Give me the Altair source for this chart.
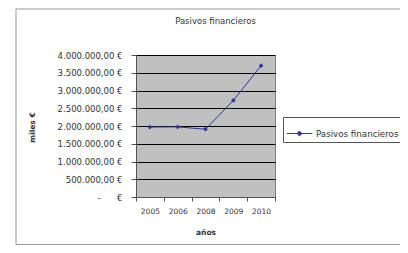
import altair as alt
import pandas as pd

years = ["2005", "2006", "2008", "2009", "2010"]
values = [1970000, 1975000, 1910000, 2720000, 3700000]
series_name = "Pasivos financieros"
y_ticks = [0, 500000, 1000000, 1500000, 2000000, 2500000, 3000000, 3500000, 4000000]

df = pd.DataFrame({"año": years, "valor": values, "serie": [series_name] * len(years)})

FONT = "DejaVu Sans"
TXT = "#333333"
LINE = "#333399"

line = alt.Chart(df).mark_line(
    color=LINE, strokeWidth=1,
    point=alt.OverlayMarkDef(shape="diamond", filled=True, size=22, color=LINE),
).encode(
    x=alt.X("año:O", sort=years, scale=alt.Scale(paddingInner=0, paddingOuter=0),
            axis=alt.Axis(title="años", labelAngle=0, tickBand="extent", tickSize=4,
                          labelPadding=6, labelFont=FONT, labelFontSize=7.5, labelColor=TXT,
                          titleFont=FONT, titleFontSize=7.5, titleFontWeight="bold", titleColor=TXT,
                          titleY=35, titleBaseline="middle",
                          domainColor="#555", tickColor="#555", grid=False)),
    y=alt.Y("valor:Q", scale=alt.Scale(domain=[0, 4000000]),
            axis=alt.Axis(title="miles €", values=y_ticks, tickSize=5, labelPadding=9,
                          labelExpr="datum.value == 0 ? '-\u00a0\u00a0\u00a0\u00a0\u00a0\u00a0€' : format(datum.value, ',.2f') + ' €'",
                          labelFont=FONT, labelFontSize=8.5, labelColor=TXT,
                          titleFont=FONT, titleFontSize=7.5, titleFontWeight="bold", titleColor=TXT,
                          titleX=-104, titleY=72, titleAlign="center", titleBaseline="middle",
                          titleAngle=270,
                          domainColor="#555", tickColor="#555",
                          grid=True, gridColor="#000000", gridOpacity=1, gridWidth=1)),
    color=alt.Color("serie:N", scale=alt.Scale(domain=[series_name], range=[LINE]),
                    legend=alt.Legend(title=None, orient="none", legendX=147, legendY=62,
                                      strokeColor="#555", padding=3,
                                      symbolType="M-1,0H1M0,-0.19L0.19,0L0,0.19L-0.19,0Z",
                                      symbolSize=650, symbolStrokeWidth=1,
                                      symbolStrokeColor="#000033", symbolFillColor="#000033",
                                      labelFont=FONT, labelFontSize=8.7, labelColor=TXT,
                                      labelOffset=3, labelLimit=300)),
)

border = alt.Chart(pd.DataFrame({"k": [0]})).mark_rect(
    fill=None, stroke="#999999", strokeWidth=1
).encode(
    x=alt.value(-120), x2=alt.value(280), y=alt.value(-46), y2=alt.value(189.5)
)

chart = alt.layer(border, line).properties(
    width=139, height=142,
    title=alt.TitleParams("Pasivos financieros", font=FONT, fontSize=8.5, fontWeight="normal",
                          color=TXT, anchor="middle", dx=10, offset=-17),
    autosize=alt.AutoSizeParams(type="none"),
    padding={"left": 128, "top": 47, "right": 125, "bottom": 48},
).configure_view(fill="#C0C0C0", stroke="#808080")

chart.save("out.html", embed_options={"renderer": "svg", "actions": False,
                                      "formatLocale": {"decimal": ",", "thousands": ".",
                                                       "grouping": [3], "currency": ["", " €"]}})
